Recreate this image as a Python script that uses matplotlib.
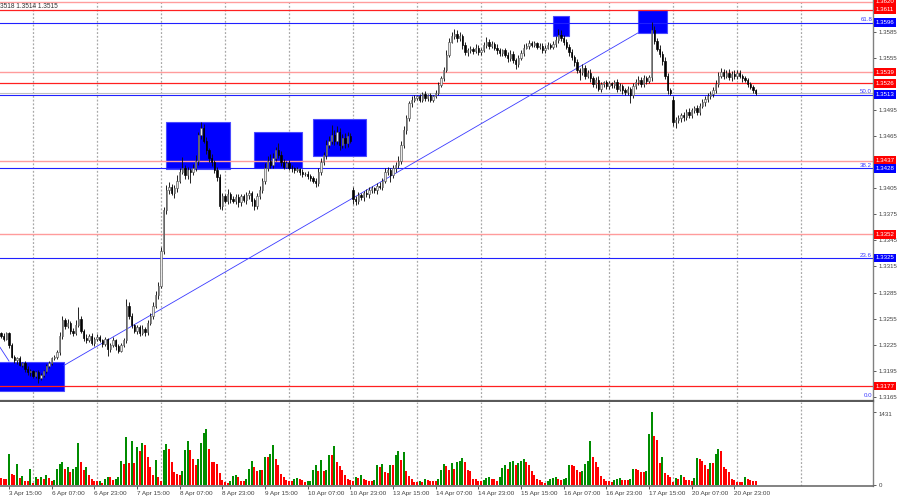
import matplotlib
matplotlib.use("Agg")
import matplotlib.pyplot as plt
from matplotlib.patches import Rectangle
import numpy as np

plt.rcParams['font.family'] = ['Liberation Sans', 'DejaVu Sans']

# ---------------- DATA ----------------
first_open = 1.3238
closes = [
    1.3235, 1.3232, 1.3238, 1.3224, 1.3211, 1.3207, 1.3209, 1.3202, 1.3204, 1.3197,
    1.3193, 1.3195, 1.3189, 1.3193, 1.3187, 1.3190, 1.3195, 1.3200, 1.3204, 1.3209,
    1.3211, 1.3216, 1.3235, 1.3253, 1.3246, 1.3250, 1.3241, 1.3238, 1.3248, 1.3255,
    1.3241, 1.3233, 1.3230, 1.3235, 1.3227, 1.3232, 1.3234, 1.3230, 1.3226, 1.3231,
    1.3220, 1.3224, 1.3230, 1.3223, 1.3218, 1.3225, 1.3230, 1.3270, 1.3258, 1.3247,
    1.3241, 1.3245, 1.3238, 1.3243, 1.3239, 1.3250, 1.3258, 1.3270, 1.3282, 1.3293,
    1.3333, 1.3380, 1.3403, 1.3407, 1.3400, 1.3405, 1.3414, 1.3424, 1.3428, 1.3420,
    1.3426, 1.3424, 1.3428, 1.3437, 1.3466, 1.3474, 1.3460, 1.3449, 1.3440, 1.3435,
    1.3426, 1.3418, 1.3385, 1.3396, 1.3391, 1.3399, 1.3393, 1.3391, 1.3395, 1.3389,
    1.3396, 1.3392, 1.3397, 1.3400, 1.3391, 1.3385, 1.3396, 1.3403, 1.3414, 1.3428,
    1.3437, 1.3432, 1.3440, 1.3449, 1.3443, 1.3435, 1.3430, 1.3434, 1.3429, 1.3428,
    1.3426, 1.3427, 1.3424, 1.3421, 1.3422, 1.3419, 1.3417, 1.3414, 1.3411, 1.3424,
    1.3435, 1.3443, 1.3455, 1.3460, 1.3466, 1.3460, 1.3470, 1.3455, 1.3463, 1.3457,
    1.3465, 1.3460, 1.3393, 1.3391, 1.3397, 1.3395, 1.3400, 1.3398, 1.3403, 1.3405,
    1.3403, 1.3408, 1.3407, 1.3414, 1.3424, 1.3426, 1.3420, 1.3428, 1.3432, 1.3437,
    1.3455, 1.3472, 1.3486, 1.3503, 1.3507, 1.3509, 1.3511, 1.3507, 1.3514, 1.3509,
    1.3512, 1.3507, 1.3511, 1.3515, 1.3524, 1.3532, 1.3541, 1.3559, 1.3574, 1.3580,
    1.3583, 1.3578, 1.3580, 1.3570, 1.3562, 1.3564, 1.3565, 1.3563, 1.3567, 1.3562,
    1.3564, 1.3570, 1.3574, 1.3569, 1.3571, 1.3567, 1.3564, 1.3561, 1.3564, 1.3559,
    1.3555, 1.3560, 1.3553, 1.3548, 1.3555, 1.3561, 1.3567, 1.3569, 1.3572, 1.3570,
    1.3572, 1.3568, 1.3569, 1.3564, 1.3567, 1.3570, 1.3568, 1.3571, 1.3576, 1.3582,
    1.3578, 1.3574, 1.3568, 1.3562, 1.3556, 1.3550, 1.3541, 1.3539, 1.3544, 1.3535,
    1.3538, 1.3532, 1.3525, 1.3530, 1.3520, 1.3525, 1.3527, 1.3523, 1.3526, 1.3524,
    1.3527, 1.3520, 1.3523, 1.3518, 1.3516, 1.3520, 1.3512, 1.3523, 1.3527, 1.3530,
    1.3525, 1.3532, 1.3529, 1.3533, 1.3588, 1.3575, 1.3566, 1.3560, 1.3552, 1.3535,
    1.3518, 1.3515, 1.3481, 1.3484, 1.3486, 1.3489, 1.3487, 1.3493, 1.3490, 1.3495,
    1.3497, 1.3493, 1.3500, 1.3504, 1.3508, 1.3511, 1.3514, 1.3518, 1.3525, 1.3535,
    1.3539, 1.3535, 1.3538, 1.3533, 1.3537, 1.3534, 1.3538, 1.3535, 1.3532, 1.3530,
    1.3525, 1.3522, 1.3518, 1.3515,
]
# weekly opening gaps (bar index -> open price)
gap_opens = {132: 1.3403, 252: 1.3507}

# wick lengths in pips above the body top / below the body bottom
upper_wick = [
    2, 3, 2, 1, 3, 2, 2, 3, 1, 2,   3, 2, 1, 2, 3, 2, 1, 3, 2, 2,
    2, 3, 4, 5, 3, 4, 2, 3, 5, 13,  3, 2, 4, 2, 3, 2, 3, 2, 1, 3,
    2, 3, 4, 2, 3, 2, 3, 8, 4, 3,   2, 3, 2, 4, 2, 3, 3, 4, 5, 4,
    5, 4, 6, 5, 3, 4, 6, 5, 13, 4,  4, 3, 5, 6, 4, 8, 5, 4, 3, 4,
    3, 4, 3, 4, 3, 5, 2, 3, 4, 3,   3, 2, 4, 3, 2, 3, 4, 5, 3, 6,
    5, 7, 6, 4, 8, 5, 4, 3, 4, 3,   2, 3, 2, 3, 2, 3, 2, 2, 3, 4,
    5, 4, 6, 5, 12, 6, 7, 4, 5, 6,  5, 4, 4, 3, 4, 3, 2, 4, 3, 3,
    2, 3, 4, 3, 5, 4, 3, 4, 3, 5,   4, 5, 4, 3, 4, 3, 2, 3, 2, 3,
    2, 3, 2, 3, 4, 3, 4, 5, 4, 5,   6, 4, 5, 3, 4, 3, 4, 3, 4, 3,
    3, 4, 5, 3, 4, 3, 4, 3, 2, 3,   3, 4, 3, 2, 4, 3, 4, 3, 4, 3,
    3, 2, 3, 4, 3, 4, 3, 4, 4, 7,   5, 4, 3, 3, 4, 3, 4, 3, 4, 3,
    3, 4, 3, 3, 4, 3, 2, 3, 3, 2,   3, 4, 3, 2, 3, 3, 2, 3, 4, 4,
    3, 4, 3, 3, 9, 4, 3, 4, 3, 4,   3, 3, 4, 3, 4, 3, 4, 3, 4, 3,
    3, 4, 3, 4, 3, 4, 3, 4, 5, 4,   5, 4, 3, 4, 3, 4, 3, 3, 2, 3,
    2, 3, 2, 2,
]
lower_wick = [
    2, 3, 2, 3, 2, 3, 4, 2, 3, 4,   3, 4, 3, 2, 6, 3, 2, 3, 2, 3,
    2, 3, 3, 4, 3, 2, 4, 3, 2, 3,   3, 4, 3, 2, 3, 4, 3, 2, 4, 3,
    8, 3, 2, 4, 3, 2, 3, 3, 4, 3,   3, 4, 3, 2, 4, 3, 2, 3, 3, 4,
    3, 4, 4, 5, 3, 6, 4, 3, 3, 4,   4, 13, 4, 3, 5, 4, 3, 4, 5, 4,
    3, 4, 4, 5, 3, 4, 5, 3, 4, 6,   4, 3, 5, 4, 6, 5, 4, 3, 3, 4,
    3, 4, 3, 4, 3, 4, 3, 2, 3, 4,   3, 2, 4, 3, 2, 3, 4, 3, 5, 3,
    4, 3, 4, 3, 4, 5, 4, 6, 4, 5,   4, 3, 6, 5, 4, 3, 4, 3, 4, 3,
    3, 4, 3, 4, 3, 4, 8, 3, 4, 3,   4, 3, 4, 3, 4, 3, 2, 3, 2, 3,
    3, 2, 3, 2, 3, 2, 3, 2, 3, 2,   3, 4, 3, 4, 3, 4, 3, 3, 2, 3,
    3, 2, 3, 3, 2, 3, 4, 3, 4, 3,   4, 3, 4, 5, 3, 2, 3, 2, 3, 2,
    2, 3, 2, 3, 3, 2, 3, 2, 3, 3,   3, 4, 3, 4, 3, 4, 3, 9, 3, 4,
    3, 4, 3, 4, 3, 4, 3, 3, 4, 3,   3, 4, 3, 4, 3, 3, 9, 3, 4, 3,
    3, 3, 4, 3, 4, 4, 3, 4, 5, 4,   4, 3, 4, 6, 4, 5, 4, 3, 4, 4,
    3, 4, 3, 3, 4, 3, 3, 4, 3, 3,   3, 4, 3, 3, 4, 3, 3, 3, 4, 3,
    3, 2, 3, 2,
]

volumes = [
    136, 116, 116, 608, 220, 194, 414, 142, 181, 91,
    91, 311, 52, 168, 116, 168, 129, 207, 136, 91,
    104, 324, 414, 453, 311, 349, 259, 324, 362, 815,
    453, 298, 362, 201, 129, 91, 78, 91, 52, 129,
    155, 155, 104, 116, 155, 479, 414, 932, 427, 854,
    440, 738, 660, 815, 776, 543, 349, 194, 492, 168,
    78, 686, 802, 712, 453, 265, 220, 201, 285, 686,
    854, 686, 518, 388, 518, 828, 1009, 1100, 712, 453,
    453, 414, 246, 104, 65, 52, 91, 181, 194, 155,
    91, 91, 129, 311, 466, 362, 285, 298, 298, 556,
    543, 608, 789, 505, 388, 220, 155, 104, 91, 91,
    116, 142, 116, 104, 65, 78, 91, 298, 388, 285,
    492, 285, 298, 595, 595, 763, 453, 375, 298, 207,
    116, 104, 91, 168, 142, 194, 129, 104, 91, 91,
    104, 388, 362, 414, 259, 246, 388, 388, 595, 673,
    492, 647, 285, 181, 129, 65, 65, 78, 65, 129,
    104, 91, 91, 78, 129, 298, 414, 375, 298, 427,
    311, 453, 466, 531, 453, 298, 272, 129, 116, 78,
    78, 104, 142, 155, 116, 116, 91, 155, 336, 401,
    311, 453, 466, 401, 440, 479, 518, 453, 388, 272,
    207, 129, 104, 65, 52, 91, 129, 142, 155, 116,
    104, 129, 142, 401, 388, 375, 298, 259, 285, 414,
    466, 854, 556, 453, 362, 181, 129, 78, 78, 65,
    104, 129, 142, 104, 104, 104, 116, 324, 324, 298,
    259, 259, 272, 996, 1430, 958, 880, 440, 543, 246,
    207, 155, 65, 142, 129, 207, 168, 104, 104, 91,
    142, 531, 518, 479, 388, 311, 440, 440, 608, 699,
    660, 362, 324, 259, 129, 104, 65, 65, 65, 168,
    129, 104, 91, 78,
]
volume_max_label = 1431

x_labels = ["3 Apr 15:00", "6 Apr 07:00", "6 Apr 23:00", "7 Apr 15:00", "8 Apr 07:00",
            "8 Apr 23:00", "9 Apr 15:00", "10 Apr 07:00", "10 Apr 23:00", "13 Apr 15:00",
            "14 Apr 07:00", "14 Apr 23:00", "15 Apr 15:00", "16 Apr 07:00", "16 Apr 23:00",
            "17 Apr 15:00", "20 Apr 07:00", "20 Apr 23:00"]
x_label_bars = [3, 19, 35, 51, 67, 83, 99, 115, 131, 147, 163, 179, 195, 211, 227, 243, 259, 275]
day_start_bars = [12, 36, 60, 84, 108, 132, 156, 180, 204, 228, 252, 276, 300]

price_ticks = [1.3165, 1.3195, 1.3225, 1.3255, 1.3285, 1.3315, 1.3345, 1.3375,
               1.3405, 1.3465, 1.3495, 1.3555, 1.3585]
red_levels = [1.3611, 1.3526, 1.3177]
pink_levels = [1.3620, 1.3539, 1.3437, 1.3352]
fib_names = ["0.0", "23.6", "38.2", "50.0", "61.8"]
fib_prices = [1.31635, 1.3325, 1.3428, 1.3513, 1.3596]
bid_price = 1.3515
header_text = "3518 1.3514 1.3515"

# rectangles: (bar_start, bar_end, price_low, price_high)
zones = [(-2.0, 23.6, 1.3171, 1.3205),
         (61.9, 85.9, 1.3427, 1.3481),
         (94.9, 112.9, 1.3428, 1.3470),
         (117.0, 136.9, 1.3442, 1.3485),
         (207.0, 213.0, 1.3581, 1.3603),
         (238.8, 249.7, 1.3584, 1.3610)]
trend_bars = [23.6, 238.8]
trend_prices = [1.3201, 1.3584]
trend2_bars = [-0.4, 3.0]
trend2_prices = [1.3222, 1.3206]

# ---------------- DERIVED OHLC ----------------
n = len(closes)
idx = np.arange(n)
c = np.array(closes)
o = np.empty(n)
o[0] = first_open
for i in range(1, n):
    o[i] = gap_opens.get(i, closes[i - 1])
hi = np.maximum(o, c) + np.array(upper_wick) * 0.0001
lo = np.minimum(o, c) - np.array(lower_wick) * 0.0001

# ---------------- FIGURE ----------------
W, H = 900, 500
fig = plt.figure(figsize=(9, 5), dpi=100)
fig.patch.set_facecolor('white')
ax_right = 873 / W
ax = fig.add_axes([0, 1 - 401 / H, ax_right, 401 / H])
axv = fig.add_axes([0, 1 - 486 / H, ax_right, 84 / H])

xmin, xmax = -0.375, 327
for a in (ax, axv):
    a.set_xlim(xmin, xmax)
    a.set_facecolor('white')
    for d in day_start_bars:
        a.axvline(d, color='#a8a8a8', lw=0.9, ls=(0, (1.5, 1.5)), zorder=1)

ax.set_ylim(1.31600, 1.36220)

# zones
for (b0, b1, p0, p1) in zones:
    ax.add_patch(Rectangle((b0, p0), b1 - b0, p1 - p0, facecolor='#0000ff',
                           edgecolor='#4a4aff', lw=0.8, zorder=1.5))

# horizontal levels
for p in pink_levels:
    ax.axhline(p, color='#ff9c9c', lw=1.0, zorder=2)
for p in red_levels:
    ax.axhline(p, color='#ff2020', lw=0.9, zorder=2)
for p in fib_prices[1:]:
    ax.axhline(p, color='#2020ff', lw=0.8, zorder=2)
ax.axhline(bid_price, color='#c0c0c0', lw=0.8, zorder=2)

# trend lines
ax.plot(trend_bars, trend_prices, color='#3a3aff', lw=0.6, zorder=2.2)
ax.plot(trend2_bars, trend2_prices, color='#3a3aff', lw=0.6, zorder=2.2)

# candles
bull = c >= o
ax.vlines(idx, lo, hi, color='#111111', lw=0.65, zorder=3)
body_h = np.maximum(np.abs(c - o), 0.00004)
body_b = np.minimum(o, c)
ax.bar(idx[bull], body_h[bull], bottom=body_b[bull], width=0.62,
       facecolor='#e8e8e8', edgecolor='#555555', lw=0.45, zorder=3.5)
ax.bar(idx[~bull], body_h[~bull], bottom=body_b[~bull], width=0.62,
       facecolor='black', edgecolor='black', lw=0.45, zorder=3.5)

# volumes
vol = np.array(volumes)
vcol = ['#008c00' if (i > 0 and vol[i] > vol[i - 1]) else '#ff0000' for i in range(n)]
axv.bar(idx, vol, width=0.72, color=vcol, zorder=3)
axv.set_ylim(-13, 1617)

# ---------- axes styling ----------
fs = 4.4
tick_col = '#404040'
for a in (ax, axv):
    a.spines['left'].set_visible(False)
    a.spines['right'].set_color('#808080')
    a.spines['right'].set_linewidth(1.0)
ax.spines['top'].set_visible(False)
ax.spines['bottom'].set_color('#5a5a5a')
ax.spines['bottom'].set_linewidth(1.6)
axv.spines['top'].set_visible(False)
axv.spines['bottom'].set_color('#606060')
axv.spines['bottom'].set_linewidth(1.1)

ax.yaxis.tick_right()
ax.set_yticks(price_ticks)
ax.set_yticklabels([f"{p:.4f}" for p in price_ticks])
ax.tick_params(axis='y', direction='out', length=2, width=0.6, pad=2,
               labelsize=fs, colors=tick_col)
ax.set_xticks([])

axv.yaxis.tick_right()
axv.set_yticks([0, volume_max_label])
axv.set_yticklabels(["0", str(volume_max_label)])
axv.tick_params(axis='y', direction='out', length=2, width=0.6, pad=2,
                labelsize=fs, colors=tick_col)
axv.get_yticklabels()[1].set_verticalalignment('top')
axv.set_xticks(x_label_bars)
axv.set_xticklabels(x_labels)
axv.tick_params(axis='x', direction='out', length=2, width=0.6, pad=1.5,
                labelsize=fs + 0.2, colors=tick_col)
for lbl in axv.get_xticklabels():
    lbl.set_horizontalalignment('left')

# coloured price labels on the right axis
ytr = ax.get_yaxis_transform()
def price_box(p, col):
    ax.text(1.003, p, f"{p:.4f}", transform=ytr, ha='left', va='center',
            fontsize=fs, color='white', clip_on=False, zorder=6,
            bbox=dict(boxstyle='square,pad=0.28', fc=col, ec='none'))

for p in pink_levels + red_levels:
    price_box(p, '#ff0000')
for p in fib_prices[1:]:
    price_box(p, '#0000ff')

# fib level captions
for name, p in zip(fib_names, fib_prices):
    ax.text(0.999, p + 0.00003, name, transform=ytr, ha='right', va='bottom',
            fontsize=fs, color='#3a3aff', zorder=6)

fig.text(0.0, 1 - 7 / H, header_text, ha='left', va='center',
         fontsize=fs + 0.3, color='#303030')

fig.savefig('out.png', dpi=100, facecolor='white')
